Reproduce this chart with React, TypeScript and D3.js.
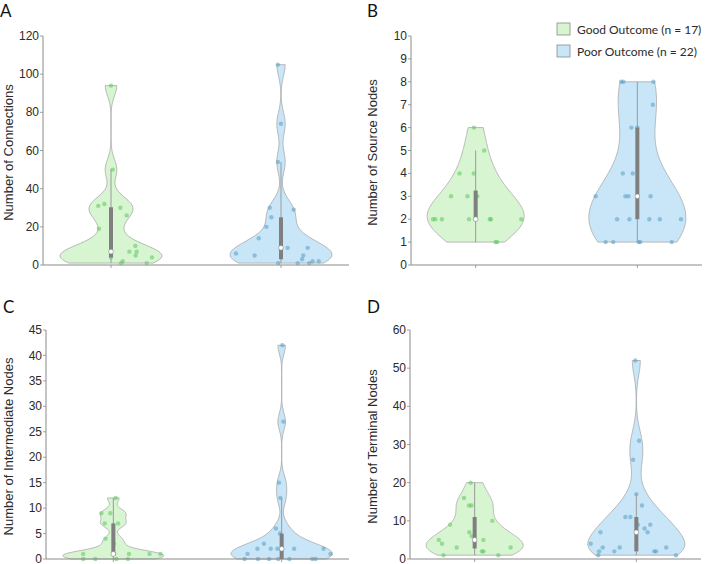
import React from 'react';
import * as d3 from 'd3';

// ---------- data ----------
const groupLabels = ['Good Outcome (n = 17)', 'Poor Outcome (n = 22)'];
const panelLetters = ['A', 'B', 'C', 'D'];
const yTitles = ['Number of Connections', 'Number of Source Nodes', 'Number of Intermediate Nodes', 'Number of Terminal Nodes'];
const yMaxes = [120, 10, 45, 60];
const ySteps = [20, 1, 5, 10];

// A: connections
const connGood = [94, 50, 32, 31, 30, 26, 19, 10, 7, 7, 7, 5, 4, 4, 2, 1, 1];
const connGoodJit = [0, 0.01, -0.039, -0.075, 0.055, 0.092, -0.071, 0.143, 0.108, 0.151, 0, 0.145, 0, 0.241, 0.069, 0.059, 0.21];
const connPoor = [105, 74, 54, 30, 29, 25, 20, 14, 12, 9, 9, 9, 8, 6, 5, 5, 3, 2, 2, 1, 1, 1];
const connPoorJit = [-0.019, 0, -0.018, -0.066, 0.075, -0.057, -0.086, -0.131, 0, 0, 0.039, 0.157, 0, -0.265, -0.155, 0.131, 0.124, 0.186, 0.222, -0.016, 0.098, 0.166];

// B: source nodes
const srcGood = [6, 5, 4, 4, 3, 3, 3, 2, 2, 2, 2, 2, 2, 2, 2, 1, 1];
const srcGoodJit = [-0.01, 0.053, -0.1, -0.012, -0.152, -0.051, 0.01, -0.264, -0.25, -0.209, -0.041, 0, 0.088, 0.094, 0.282, 0.123, 0.133];
const srcPoor = [8, 8, 8, 7, 6, 6, 4, 4, 3, 3, 3, 3, 2, 2, 2, 2, 2, 1, 1, 1, 1, 1];
const srcPoorJit = [-0.1, -0.086, 0.1, 0.096, -0.037, 0, -0.09, -0.028, -0.258, -0.074, -0.055, 0.082, -0.125, -0.049, 0.074, 0.139, 0.27, -0.196, -0.149, 0.008, 0.018, 0.213];

// C: intermediate nodes
const intGood = [12, 9, 9, 7, 7, 4, 3, 1, 1, 1, 1, 1, 1, 0, 0, 0, 0];
const intGoodJit = [0.014, -0.071, -0.018, -0.051, 0.028, -0.046, 0.004, -0.179, 0.093, 0.215, 0.28, 0, 0.005, -0.179, -0.107, 0.018, 0.087];
const intPoor = [42, 27, 15, 12, 6, 5, 3, 2, 2, 2, 2, 2, 2, 1, 1, 0, 0, 0, 0, 0, 0, 0];
const intPoorJit = [0.004, 0.01, -0.016, -0.008, -0.034, -0.01, -0.105, -0.144, -0.065, -0.025, 0.074, 0.249, 0, -0.203, 0.29, -0.22, -0.141, -0.075, -0.02, 0.046, 0.182, 0.201];

// D: terminal nodes
const termGood = [20, 16, 14, 14, 10, 9, 7, 6, 5, 5, 4, 3, 3, 2, 2, 1, 1];
const termGoodJit = [-0.025, -0.066, -0.035, -0.02, 0.109, -0.152, -0.033, -0.019, -0.222, 0.054, -0.202, -0.111, 0.222, 0.045, 0.054, -0.193, 0.146];
const termPoor = [52, 31, 26, 17, 14, 11, 11, 9, 9, 8, 7, 7, 4, 3, 3, 3, 2, 2, 2, 2, 1, 1];
const termPoorJit = [-0.006, 0.017, -0.02, 0, 0.035, -0.068, -0.037, 0.009, 0.086, 0.051, -0.222, 0.07, -0.282, -0.208, -0.103, 0.185, -0.23, -0.136, 0.111, 0.122, -0.236, 0.245];

const panelData = [
  [[connGood, connGoodJit], [connPoor, connPoorJit]],
  [[srcGood, srcGoodJit], [srcPoor, srcPoorJit]],
  [[intGood, intGoodJit], [intPoor, intPoorJit]],
  [[termGood, termGoodJit], [termPoor, termPoorJit]],
];

// ---------- layout / style ----------
const LAYOUT = [
  { left: 43, right: 349, top: 36, bottom: 265, titleX: 12.7, letterX: 0, letterY: 17 },
  { left: 411, right: 702, top: 36, bottom: 265, titleX: 377, letterX: 367, letterY: 17 },
  { left: 46, right: 349, top: 330, bottom: 559, titleX: 13, letterX: 3, letterY: 313 },
  { left: 410, right: 701, top: 330, bottom: 559, titleX: 377, letterX: 367, letterY: 313 },
];
const FILLS = ['#d7f5d1', '#c8e6f8'];
const DOTS = ['#5cc460', '#5a9cc2'];
const EDGE = '#a9a9a9';
const AXIS = '#8a8a8a';
const TICKFONT = '"Liberation Sans", Arial, Helvetica, sans-serif';
const LABELFONT = 'Lato, "Open Sans", sans-serif';

function mQuantile(sorted: number[], p: number) {
  const n = sorted.length;
  const pos = n * p + 0.5;
  if (pos <= 1) return sorted[0];
  if (pos >= n) return sorted[n - 1];
  const lo = Math.floor(pos);
  const f = pos - lo;
  return sorted[lo - 1] + f * (sorted[lo] - sorted[lo - 1]);
}

function violinShape(data: number[]) {
  const s = [...data].sort((a, b) => a - b);
  const n = s.length;
  const med = d3.median(s) as number;
  const mad = d3.median(s.map((v) => Math.abs(v - med))) as number;
  let sig = mad / 0.6745;
  if (!(sig > 0)) sig = s[n - 1] - s[0];
  const u = sig * Math.pow(4 / (3 * n), 0.2);
  const lo = s[0], hi = s[n - 1];
  const m = 100;
  const pts = d3.range(m).map((i) => {
    const v = lo + ((hi - lo) * i) / (m - 1);
    const dens = d3.sum(s, (x) => Math.exp(-0.5 * ((v - x) / u) ** 2)) / (n * u * Math.sqrt(2 * Math.PI));
    return { v, d: dens };
  });
  const maxD = d3.max(pts, (p) => p.d) as number;
  return pts.map((p) => ({ v: p.v, w: (p.d / maxD) * 0.3 }));
}

function stats(data: number[]) {
  const s = [...data].sort((a, b) => a - b);
  const q1 = mQuantile(s, 0.25);
  const q2 = mQuantile(s, 0.5);
  const q3 = mQuantile(s, 0.75);
  const iqr = q3 - q1;
  let lw = q1 - 1.5 * iqr;
  lw = Math.max(lw, d3.min(s.filter((v) => v >= lw)) as number);
  let hw = q3 + 1.5 * iqr;
  hw = Math.min(hw, d3.max(s.filter((v) => v <= hw)) as number);
  return { q1, q2, q3, lw, hw };
}

function Panel({ idx }: { idx: number }) {
  const L = LAYOUT[idx];
  const x = d3.scaleLinear().domain([0.6, 2.4]).range([L.left, L.right]);
  const y = d3.scaleLinear().domain([0, yMaxes[idx]]).range([L.bottom, L.top]);
  const ticks = d3.range(0, yMaxes[idx] + ySteps[idx] / 2, ySteps[idx]);
  return (
    <g>
      {panelData[idx].map(([vals, jit], g) => {
        const pos = g + 1;
        const shape = violinShape(vals);
        const area = d3
          .area<{ v: number; w: number }>()
          .y((d) => y(d.v))
          .x0((d) => x(pos - d.w))
          .x1((d) => x(pos + d.w));
        const st = stats(vals);
        return (
          <g key={g}>
            <path d={area(shape) as string} fill={FILLS[g]} stroke={EDGE} strokeWidth={0.8} />
            {vals.map((v, i) => (
              <circle key={i} cx={x(pos + jit[i])} cy={y(v)} r={2.2} fill={DOTS[g]} fillOpacity={0.55} />
            ))}
            <line x1={x(pos)} x2={x(pos)} y1={y(st.lw)} y2={y(st.hw)} stroke="#9a9a9a" strokeWidth={1} />
            <rect x={x(pos) - 2} width={4} y={y(st.q3)} height={y(st.q1) - y(st.q3)} fill="#7f7f7f" />
            <circle cx={x(pos)} cy={y(st.q2)} r={2.4} fill="#ffffff" stroke="#8a8a8a" strokeWidth={0.6} />
          </g>
        );
      })}
      {/* axes */}
      <line x1={L.left} x2={L.left} y1={L.top} y2={L.bottom} stroke={AXIS} strokeWidth={1} />
      <line x1={L.left} x2={L.right} y1={L.bottom} y2={L.bottom} stroke={AXIS} strokeWidth={1} />
      {[1, 2].map((p) => (
        <line key={p} x1={x(p)} x2={x(p)} y1={L.bottom} y2={L.bottom + 3} stroke={AXIS} strokeWidth={0.8} />
      ))}
      {ticks.map((t) => (
        <g key={t}>
          <line x1={L.left - 3} x2={L.left} y1={y(t)} y2={y(t)} stroke={AXIS} strokeWidth={0.8} />
          <text x={L.left - 4} y={y(t)} dy="0.34em" textAnchor="end" fontFamily={TICKFONT} fontSize={12} fill="#2b2b2b">
            {t}
          </text>
        </g>
      ))}
      <text
        transform={`translate(${L.titleX},${(L.top + L.bottom) / 2 + 2}) rotate(-90)`}
        textAnchor="middle"
        fontFamily={TICKFONT}
        fontSize={13}
        fill="#2b2b2b"
      >
        {yTitles[idx]}
      </text>
      <text x={L.letterX} y={L.letterY} fontFamily={LABELFONT} fontSize={17} fill="#111">
        {panelLetters[idx]}
      </text>
    </g>
  );
}

export default function App() {
  return (
    <svg width={709} height={564} style={{ position: 'absolute', left: 0, top: 0, background: '#fff' }}>
      <rect width={709} height={564} fill="#fff" />
      {[0, 1, 2, 3].map((i) => (
        <Panel key={i} idx={i} />
      ))}
      {groupLabels.map((lab, g) => (
        <g key={g} transform={`translate(557,${23 + g * 22})`}>
          <rect width={13} height={12} fill={FILLS[g]} stroke="#8a8a8a" strokeWidth={0.8} />
          <text x={20} y={10.5} fontFamily={LABELFONT} fontSize={12} fill="#2b2b2b">
            {lab}
          </text>
        </g>
      ))}
    </svg>
  );
}
